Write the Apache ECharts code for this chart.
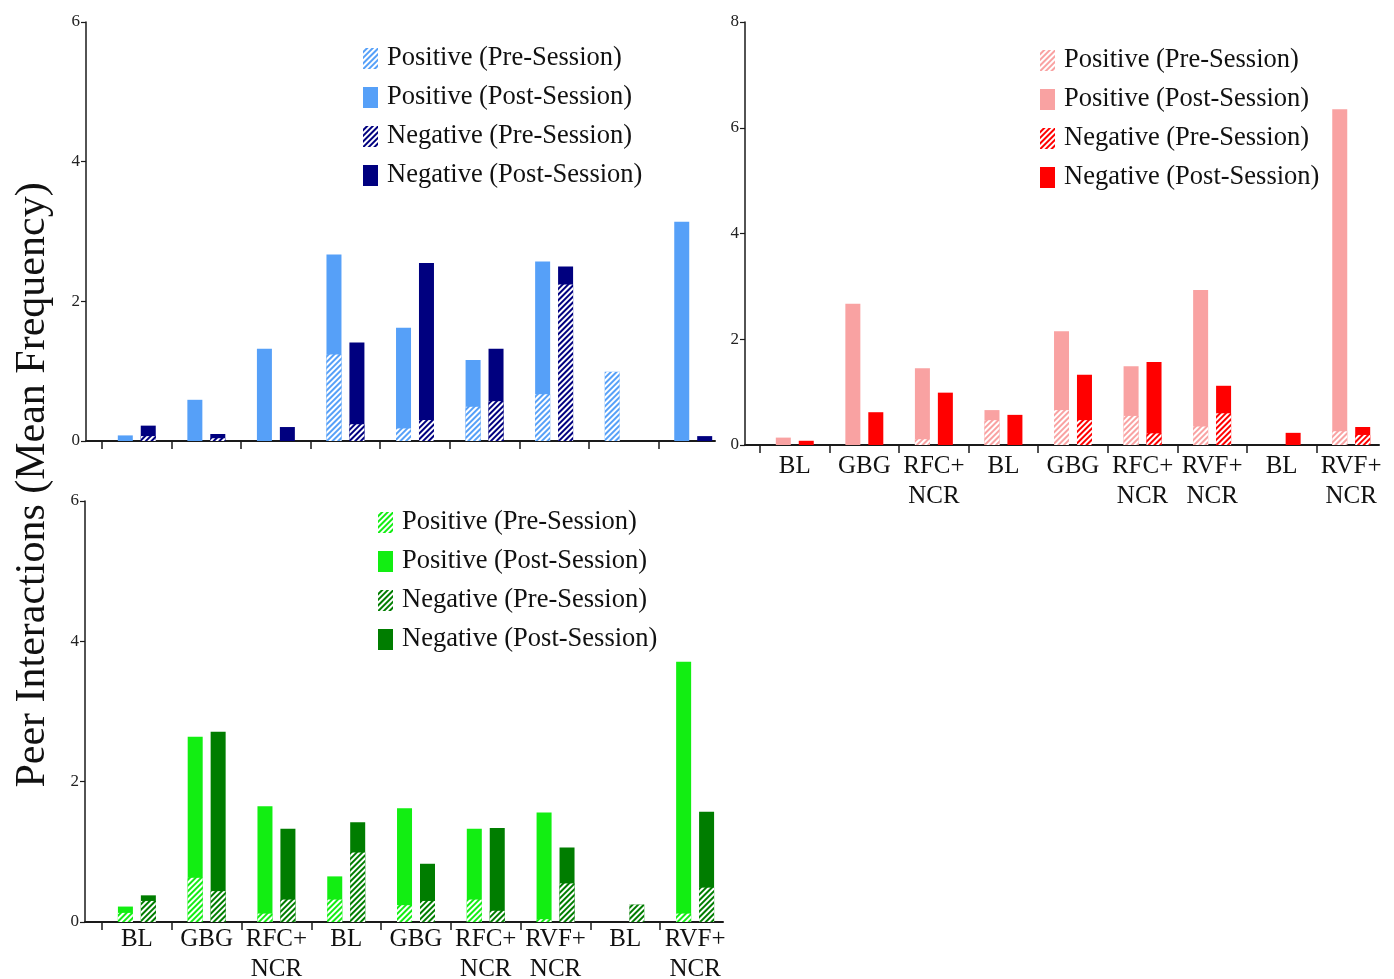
<!DOCTYPE html>
<html>
<head>
<meta charset="utf-8">
<script src="https://cdn.jsdelivr.net/npm/echarts@6/dist/echarts.min.js"></script>
<style>
html,body{margin:0;padding:0;background:#fff;}
#chart{width:1394px;height:979px;}
</style>
</head>
<body>
<div id="chart"></div>
<script>
// ---- data ----
const categories = ['BL', 'GBG', 'RFC+\nNCR', 'BL', 'GBG', 'RFC+\nNCR', 'RVF+\nNCR', 'BL', 'RVF+\nNCR'];
const legendNames = ['Positive (Pre-Session)', 'Positive (Post-Session)', 'Negative (Pre-Session)', 'Negative (Post-Session)'];
const yTitle = 'Peer Interactions (Mean Frequency)';

// Top-left panel (blue)
const blueCategories = categories;
const bluePosPre  = [0, 0, 0, 1.24, 0.18, 0.49, 0.67, 0.99, 0];
const bluePosPost = [0.08, 0.59, 1.32, 2.67, 1.62, 1.16, 2.57, 0, 3.14];
const blueNegPre  = [0.07, 0.04, 0, 0.24, 0.30, 0.57, 2.24, 0, 0];
const blueNegPost = [0.22, 0.10, 0.20, 1.41, 2.55, 1.32, 2.50, 0, 0.07];
const blueYMax = 6;

// Top-right panel (red)
const redCategories = categories;
const redPosPre  = [0, 0, 0.11, 0.47, 0.66, 0.55, 0.35, 0, 0.26];
const redPosPost = [0.14, 2.67, 1.45, 0.66, 2.15, 1.49, 2.93, 0, 6.35];
const redNegPre  = [0, 0, 0, 0, 0.47, 0.22, 0.60, 0, 0.19];
const redNegPost = [0.08, 0.62, 0.99, 0.57, 1.33, 1.57, 1.12, 0.23, 0.34];
const redYMax = 8;

// Bottom-left panel (green)
const greenCategories = categories;
const greenPosPre  = [0.13, 0.63, 0.12, 0.32, 0.24, 0.32, 0.04, 0, 0.12];
const greenPosPost = [0.22, 2.64, 1.65, 0.65, 1.62, 1.33, 1.56, 0, 3.71];
const greenNegPre  = [0.30, 0.44, 0.32, 0.99, 0.30, 0.16, 0.55, 0.25, 0.49];
const greenNegPost = [0.38, 2.71, 1.33, 1.42, 0.83, 1.34, 1.06, 0, 1.57];
const greenYMax = 6;

// ---- styling / layout ----
const FONT = '"Liberation Serif", "Times New Roman", serif';
const AXIS_COLOR = '#1a1a1a';

const panels = [
  { key: 'A', cats: blueCategories, showLabels: false, labelMargin: 4,
    posPre: bluePosPre, posPost: bluePosPost, negPre: blueNegPre, negPost: blueNegPost,
    yMax: blueYMax, posColor: '#56a0f8', negColor: '#00007f',
    frame: { left: 86, top: 22, width: 629, height: 419 },
    bars: { left: 102, width: 626 },
    legend: { left: 363, top: 45 } },
  { key: 'B', cats: redCategories, showLabels: true, labelMargin: 6,
    posPre: redPosPre, posPost: redPosPost, negPre: redNegPre, negPost: redNegPost,
    yMax: redYMax, posColor: '#f9a2a2', negColor: '#ff0000',
    frame: { left: 745, top: 22, width: 634, height: 423 },
    bars: { left: 760, width: 626 },
    legend: { left: 1040, top: 47 } },
  { key: 'C', cats: greenCategories, showLabels: true, labelMargin: 2,
    posPre: greenPosPre, posPost: greenPosPost, negPre: greenNegPre, negPost: greenNegPost,
    yMax: greenYMax, posColor: '#12ee12', negColor: '#007d00',
    frame: { left: 85, top: 501, width: 638, height: 421 },
    bars: { left: 102, width: 628 },
    legend: { left: 378, top: 509 } }
];

function hatch(color) {
  return {
    color: color,
    borderWidth: 0,
    decal: {
      symbol: 'rect',
      symbolSize: 1,
      color: '#ffffff',
      dashArrayX: [1, 0],
      dashArrayY: [2, 2],
      rotation: -Math.PI / 4
    }
  };
}

const grid = [], xAxis = [], yAxis = [], series = [], legend = [];

panels.forEach(function (p) {
  const gFrame = grid.length;
  grid.push({ left: p.frame.left, top: p.frame.top, width: p.frame.width, height: p.frame.height,
    containLabel: false, outerBoundsMode: 'none' });
  const gBars = grid.length;
  grid.push({ left: p.bars.left, top: p.frame.top, width: p.bars.width, height: p.frame.height,
    containLabel: false, outerBoundsMode: 'none' });

  // frame axes
  xAxis.push({ gridIndex: gFrame, type: 'value', min: 0, max: 1, position: 'bottom',
    axisLine: { show: true, onZero: false, lineStyle: { color: AXIS_COLOR, width: 2 } },
    axisTick: { show: false }, axisLabel: { show: false }, splitLine: { show: false } });
  yAxis.push({ gridIndex: gFrame, type: 'value', min: 0, max: p.yMax, interval: 2,
    axisLine: { show: true, onZero: false, lineStyle: { color: AXIS_COLOR, width: 1.5 } },
    axisTick: { show: true, length: 5, lineStyle: { color: AXIS_COLOR, width: 1.2 } },
    axisLabel: { show: true, margin: 6, fontFamily: FONT, fontSize: 17, color: '#222' },
    splitLine: { show: false } });

  // bars axes
  const xPost = xAxis.length;
  xAxis.push({ gridIndex: gBars, type: 'category', data: p.cats, position: 'bottom',
    axisLine: { show: false }, axisTick: { show: false },
    axisLabel: { show: p.showLabels, interval: 0, margin: p.labelMargin, fontFamily: FONT, fontSize: 25,
      lineHeight: 30, color: '#111' } });
  const xPre = xAxis.length;
  xAxis.push({ gridIndex: gBars, type: 'category', data: p.cats, position: 'bottom', show: false });
  const tickPoints = p.cats.concat(['']);
  xAxis.push({ gridIndex: gBars, type: 'category', data: tickPoints.map(function (c, i) { return 't' + i; }),
    boundaryGap: false, position: 'bottom',
    axisLine: { show: false },
    axisTick: { show: true, length: 8, interval: function (i) { return i < p.cats.length; },
      lineStyle: { color: AXIS_COLOR, width: 1.5 } },
    axisLabel: { show: false } });
  const yBars = yAxis.length;
  yAxis.push({ gridIndex: gBars, type: 'value', min: 0, max: p.yMax, interval: 2, show: false });

  const names = legendNames.map(function (n) { return p.key + '|' + n; });
  const common = { type: 'bar', barWidth: 15, barGap: '53%', yAxisIndex: yBars };
  series.push(Object.assign({}, common, { name: names[1], xAxisIndex: xPost, data: p.posPost,
    itemStyle: { color: p.posColor } }));
  series.push(Object.assign({}, common, { name: names[3], xAxisIndex: xPost, data: p.negPost,
    itemStyle: { color: p.negColor } }));
  series.push(Object.assign({}, common, { name: names[0], xAxisIndex: xPre, data: p.posPre, z: 3,
    itemStyle: hatch(p.posColor) }));
  series.push(Object.assign({}, common, { name: names[2], xAxisIndex: xPre, data: p.negPre, z: 3,
    itemStyle: hatch(p.negColor) }));

  legend.push({ data: names, orient: 'vertical', left: p.legend.left, top: p.legend.top, padding: 0,
    icon: 'rect', itemWidth: 15, itemHeight: 21, itemGap: 12, selectedMode: false,
    formatter: function (n) { return n.split('|')[1]; },
    textStyle: { fontFamily: FONT, fontSize: 26.5, color: '#111', lineHeight: 26, padding: [0, 0, 0, 4] } });
});

const chart = echarts.init(document.getElementById('chart'), null, { renderer: 'canvas' });
chart.setOption({
  animation: false,
  backgroundColor: '#ffffff',
  grid: grid, xAxis: xAxis, yAxis: yAxis, series: series, legend: legend,
  graphic: [{ type: 'text', x: 33, y: 485, rotation: Math.PI / 2,
    style: { text: yTitle, font: '42px ' + FONT, fill: '#111', align: 'center', verticalAlign: 'middle' } }]
});
</script>
</body>
</html>
